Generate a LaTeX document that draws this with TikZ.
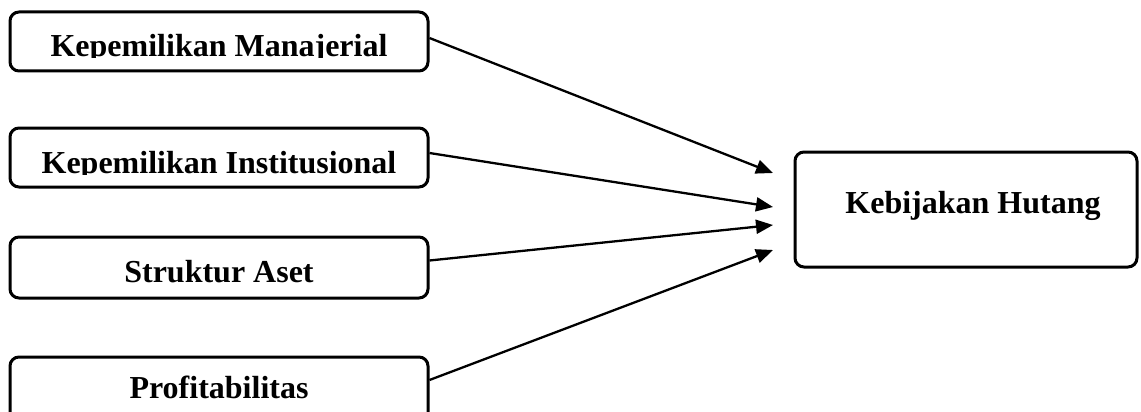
\documentclass[tikz,border=0pt]{standalone}
\usepackage{fontspec}
\setmainfont{Liberation Serif}
\usetikzlibrary{arrows.meta}
\begin{document}
\begin{tikzpicture}[x=1pt,y=-1pt,
  box/.style={draw, line width=3pt, rounded corners=9pt, rectangle, inner sep=0pt},
  lbl/.style={anchor=base, inner sep=0pt, font=\fontsize{32}{38}\selectfont\bfseries},
  link/.style={line width=2.3pt, -{Triangle[length=17pt,width=14pt]}}]
\useasboundingbox (0,0) rectangle (1141,412);
\clip (0,0) rectangle (1141,412);
% boxes
\node[box, minimum width=418pt, minimum height=59pt] (b1) at (219,41.5) {};
\node[box, minimum width=418pt, minimum height=59pt] (b2) at (219,157.5) {};
\node[box, minimum width=418pt, minimum height=61pt] (b3) at (219,267.5) {};
\node[box, minimum width=418pt, minimum height=80pt] (b4) at (219,397) {};
\node[box, minimum width=342pt, minimum height=115pt] (k) at (966,209.5) {};
% labels (descenders trimmed as in the reference)
\begin{scope}
\clip (12,14) rectangle (426,58);
\node[lbl] (t1) at (219,57) {Kepemilikan Manajerial};
\end{scope}
\begin{scope}
\clip (12,130) rectangle (426,174);
\node[lbl] (t2) at (219,173) {Kepemilikan Institusional};
\end{scope}
\node[lbl] (t3) at (219,282) {Struktur Aset};
\node[lbl] (t4) at (219,398) {Profitabilitas};
\node[lbl] (t5) at (973,213) {Kebijakan Hutang};
% arrow tips
\coordinate (e1) at (773,173);
\coordinate (e2) at (773,207);
\coordinate (e3) at (773,225);
\coordinate (e4) at (773,250);
\draw[link] ([yshift=3.5pt]b1.east) -- (e1);
\draw[link] ([yshift=4.5pt]b2.east) -- (e2);
\draw[link] ([yshift=7pt]b3.east) -- (e3);
\draw[link] ([yshift=17pt]b4.east) -- (e4);
\end{tikzpicture}
\end{document}
